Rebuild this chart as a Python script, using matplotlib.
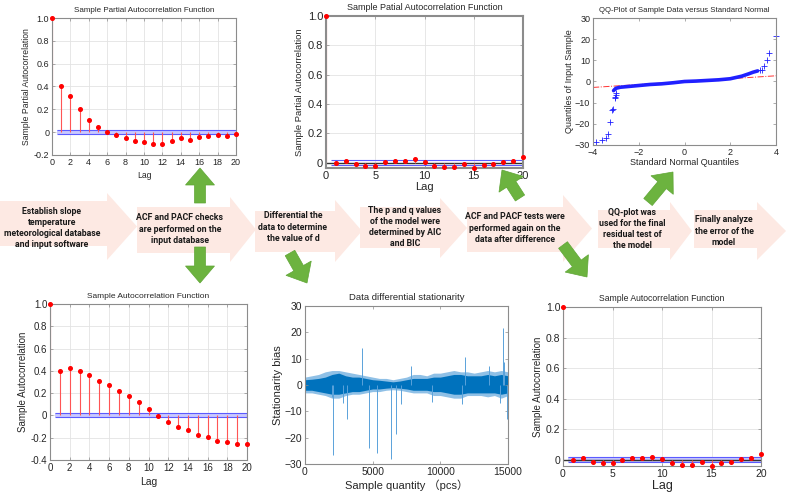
import numpy as np
import matplotlib.pyplot as plt
from matplotlib.patches import Polygon, FancyArrow

plt.rcParams['font.family'] = ['Liberation Sans', 'Noto Sans CJK SC', 'DejaVu Sans']

W, H = 786, 494

# ---- data ----
lags = np.arange(21)

# top-left: PACF of the raw data
pacf_raw = [1.0, 0.40, 0.32, 0.20, 0.11, 0.045, 0.005, -0.025, -0.055, -0.075,
            -0.085, -0.10, -0.10, -0.08, -0.048, -0.065, -0.038, -0.035, -0.025, -0.03, -0.02]
# top-middle: PACF after differencing
pacf_diff = [1.0, 0.0, 0.013, -0.007, -0.02, -0.02, 0.002, 0.013, 0.011, 0.022, 0.004,
             -0.02, -0.03, -0.03, -0.011, -0.039, -0.017, -0.007, 0.004, 0.013, 0.037]
# bottom-left: ACF of the raw data
acf_raw = [1.0, 0.40, 0.43, 0.40, 0.36, 0.31, 0.27, 0.22, 0.17, 0.12, 0.06,
           -0.003, -0.057, -0.10, -0.13, -0.18, -0.195, -0.225, -0.24, -0.26, -0.26]
# bottom-right: ACF after differencing
acf_diff = [1.0, 0.0, 0.011, -0.011, -0.022, -0.022, 0.0, 0.013, 0.011, 0.02, 0.004,
            -0.022, -0.035, -0.035, -0.017, -0.043, -0.022, -0.011, 0.004, 0.011, 0.037]
bound_raw = (0.018, -0.018)
bound_diff = (0.017, -0.017)

# QQ plot: dense middle part of the curve
qq_x = [-3.1, -3.0, -2.8, -2.5, -2.0, -1.5, -1.0, -0.5, 0.0, 0.5, 1.0, 1.5, 2.0, 2.5, 2.8, 3.0, 3.2]
qq_y = [-4.3, -3.2, -2.7, -2.4, -1.9, -1.4, -1.1, -0.6, 0.0, 0.2, 0.5, 0.8, 1.3, 2.5, 3.6, 4.4, 5.0]
# QQ plot: tail points
qq_tail_x = [-3.85, -3.6, -3.45, -3.35, -3.25, -3.15, -3.12, -3.05, -3.02, -3.0, -2.98,
             3.3, 3.4, 3.48, 3.59, 3.71, 4.0]
qq_tail_y = [-28.8, -27.5, -26.5, -25.0, -19.3, -13.5, -13.0, -8.0, -7.2, -6.5, -5.5,
             5.2, 5.5, 7.1, 10.3, 13.7, 21.6]
qq_line_x = [-4, 4]
qq_line_y = [-2.8, 2.7]

# differenced series: noise envelope and isolated spikes
env_x = [0, 500, 1000, 1500, 2000, 2500, 3000, 3500, 4000, 4500, 5000, 5500, 6000, 6500, 7000,
         7500, 8000, 8500, 9000, 9500, 10000, 10500, 11000, 11500, 12000, 12500, 13000, 13500,
         14000, 14500, 15000]
core_hi = [2.0, 2.2, 2.5, 3.0, 4.0, 4.5, 3.5, 3.0, 3.0, 2.5, 2.0, 1.8, 1.5, 1.2, 1.5,
           2.0, 2.5, 2.5, 2.5, 3.0, 3.0, 3.5, 4.0, 4.0, 3.5, 3.5, 3.5, 4.0, 3.5, 4.0, 3.5]
core_lo = [-2.0, -2.0, -2.5, -3.0, -3.5, -3.5, -3.0, -2.5, -2.5, -2.0, -1.5, -1.5, -1.2, -1.0, -1.2,
           -1.5, -2.0, -2.0, -2.0, -2.5, -2.5, -3.0, -3.5, -3.5, -3.0, -3.0, -3.0, -3.0, -3.0, -3.5, -3.0]
fringe_hi = [3.0, 3.5, 4.0, 5.0, 5.5, 5.5, 5.0, 4.5, 4.0, 3.5, 3.0, 2.5, 2.5, 2.0, 2.5,
             3.0, 4.0, 4.0, 3.5, 4.5, 4.5, 5.0, 5.5, 5.0, 5.0, 4.5, 5.0, 5.5, 5.0, 5.5, 5.0]
fringe_lo = [-3.0, -3.0, -3.5, -4.0, -5.0, -5.0, -4.0, -3.5, -3.5, -3.0, -2.5, -2.5, -2.0, -1.8, -2.0,
             -2.5, -3.0, -3.0, -3.0, -4.0, -4.0, -4.5, -5.0, -5.0, -4.0, -4.0, -4.0, -4.5, -4.0, -5.0, -4.0]
spike_x = [1970, 2090, 2780, 3120, 4180, 4700, 5290, 6390, 6710, 7080, 7840, 9390, 11600, 11850,
           13600, 14430, 14630, 14700, 14930]
spike_y = [-4.7, -26.7, -6.9, -13.0, 14.2, -23.9, -25.8, -28.1, -18.5, -7.3, 7.4, -6.4, -7.3, 10.6,
           7.2, -6.9, 21.7, 8.9, -13.0]

steps = ["Establish slope\ntemperature\nmeteorological database\nand input software",
         "ACF and PACF checks\nare performed on the\ninput database",
         "Differential the\ndata to determine\nthe value of d",
         "The p and q values\nof the model were\ndetermined by AIC\nand BIC",
         "ACF and PACF tests were\nperformed again on the\ndata after difference",
         "QQ-plot was\nused for the final\nresidual test of\nthe model",
         "Finally analyze\nthe error of the\nmodel"]
step_xy = [(52, 228), (180, 229), (293, 227), (405, 227), (515, 228), (632, 229), (724, 231)]
# pink block arrows: x0, neck, tip, body top, body bottom, head top, head bottom (pixels)
blocks = [(0, 107, 137, 201, 246, 193, 260), (137, 230, 256, 207, 253, 197, 262),
          (255, 335, 362, 211, 252, 200, 262), (360, 440, 467, 207, 248, 198, 258),
          (467, 563, 592, 207, 252, 195, 262), (598, 670, 692, 210, 248, 202, 260),
          (694, 757, 786, 210, 248, 202, 260)]
# green arrows: tail x, tail y, dx, dy (pixels)
greens = [(200, 203, 0, -35), (200, 247, 0, 36), (290, 253, 17, 30),
          (520, 198, -18, -28), (648, 202, 25, -30), (563, 245, 24, 32)]

RED = '#ff0000'
BLUE = '#5b5bff'
TXT = '#262626'

fig = plt.figure(figsize=(W / 100, H / 100), dpi=100)


def px_axes(x0, y0, x1, y1):
    return fig.add_axes([x0 / W, 1 - y1 / H, (x1 - x0) / W, (y1 - y0) / H])


def style(ax, fs):
    for s in ax.spines.values():
        s.set_color('#8c8c8c')
        s.set_linewidth(0.8)
    ax.tick_params(direction='in', length=2, width=0.5, colors='#8c8c8c',
                   labelcolor=TXT, labelsize=fs, top=True, right=True, pad=2)


def corr_plot(ax, vals, bounds, band, zero_black):
    ax.grid(True, color='#e3e3e3', lw=0.6)
    ax.set_axisbelow(True)
    if band:
        ax.fill_between([0.5, 20], bounds[1], bounds[0], color='#c9c9ff', lw=0)
    ax.hlines(list(bounds), 0.5, 20, color=BLUE, lw=0.8)
    if zero_black:
        ax.axhline(0, color='#333333', lw=1.0)
    ax.vlines(lags, 0, vals, color='#ff5555', lw=0.8)
    ax.plot(lags, vals, 'o', ms=2.6, color=RED, clip_on=False, zorder=5)
    ax.set_xlim(0, 20)


# top-left
ax1 = px_axes(52, 18, 236, 155)
style(ax1, 6.5)
corr_plot(ax1, pacf_raw, bound_raw, True, False)
ax1.set_ylim(-0.2, 1.0)
ax1.set_xticks(range(0, 21, 2))
ax1.set_yticks([-0.2, 0, 0.2, 0.4, 0.6, 0.8, 1.0])
ax1.set_yticklabels(['-0.2', '0', '0.2', '0.4', '0.6', '0.8', '1.0'])
ax1.set_title('Sample Partial Autocorrelation Function', fontsize=5.8, pad=4, color=TXT)
ax1.set_ylabel('Sample Partial Autocorrelation', fontsize=6.2, labelpad=2, color=TXT)
ax1.set_xlabel('Lag', fontsize=6.2, labelpad=3, color=TXT)

# top-middle
ax2 = px_axes(326, 16, 523, 168)
style(ax2, 8)
corr_plot(ax2, pacf_diff, bound_diff, False, True)
ax2.set_ylim(-0.037, 1.0)
ax2.set_xticks(range(0, 21, 5))
ax2.set_yticks([0, 0.2, 0.4, 0.6, 0.8, 1.0])
ax2.set_yticklabels(['0', '0.2', '0.4', '0.6', '0.8', '1.0'])
for s in ax2.spines.values():
    s.set_linewidth(1.5)
ax2.set_title('Sample Patial Autocorrelation Function', fontsize=6.5, pad=4, color=TXT)
ax2.set_ylabel('Sample Partial Autocorrelation', fontsize=6.8, labelpad=3, color=TXT)
ax2.set_xlabel('Lag', fontsize=8, labelpad=1, color=TXT)

# top-right: QQ plot
ax3 = px_axes(593, 18, 776, 145)
style(ax3, 6.5)
ax3.plot(qq_line_x, qq_line_y, color='#ff3333', lw=0.7, ls='-.')
ax3.plot(qq_x, qq_y, color='#2020ff', lw=2.6, solid_capstyle='round')
ax3.plot(qq_tail_x, qq_tail_y, '+', color='#2020ff', ms=4, mew=0.6, clip_on=False)
ax3.set_xlim(-4, 4)
ax3.set_ylim(-30, 30)
ax3.set_xticks([-4, -2, 0, 2, 4])
ax3.set_yticks(range(-30, 31, 10))
ax3.set_title('QQ-Plot of Sample Data versus Standard Normal', fontsize=5.6, pad=4, color=TXT)
ax3.set_ylabel('Quantiles of Input Sample', fontsize=6.5, labelpad=1, color=TXT)
ax3.set_xlabel('Standard Normal Quantiles', fontsize=6.5, labelpad=1, color=TXT)

# bottom-left
ax4 = px_axes(50, 304, 247, 460)
style(ax4, 7)
corr_plot(ax4, acf_raw, bound_raw, True, False)
ax4.set_ylim(-0.4, 1.0)
ax4.set_xticks(range(0, 21, 2))
ax4.set_yticks([-0.4, -0.2, 0, 0.2, 0.4, 0.6, 0.8, 1.0])
ax4.set_yticklabels(['-0.4', '-0.2', '0', '0.2', '0.4', '0.6', '0.8', '1.0'])
ax4.set_title('Sample Autocorrelation Function', fontsize=6, pad=4, color=TXT)
ax4.set_ylabel('Sample Autocorrelation', fontsize=7, labelpad=2, color=TXT)
ax4.set_xlabel('Lag', fontsize=7.5, labelpad=3, color=TXT)

# bottom-middle: differenced series
ax5 = px_axes(305, 306, 508, 464)
style(ax5, 7.5)
ax5.fill_between(env_x, fringe_lo, fringe_hi, color='#8fc0e6', lw=0)
ax5.fill_between(env_x, core_lo, core_hi, color='#0072bd', lw=0)
ax5.vlines(spike_x, 0, spike_y, color='#5aa2da', lw=0.7)
ax5.set_xlim(0, 15000)
ax5.set_ylim(-30, 30)
ax5.set_xticks([0, 5000, 10000, 15000])
ax5.set_yticks(range(-30, 31, 10))
ax5.set_title('Data differential stationarity', fontsize=6.8, pad=4, color=TXT)
ax5.set_ylabel('Stationarity bias', fontsize=8, labelpad=1, color=TXT)
ax5.set_xlabel('Sample quantity （pcs）', fontsize=8, labelpad=2, color=TXT)

# bottom-right
ax6 = px_axes(563, 307, 761, 466)
style(ax6, 7.5)
corr_plot(ax6, acf_diff, bound_diff, True, True)
ax6.set_ylim(-0.04, 1.0)
ax6.set_xticks(range(0, 21, 5))
ax6.set_yticks([0, 0.2, 0.4, 0.6, 0.8, 1.0])
ax6.set_yticklabels(['0', '0.2', '0.4', '0.6', '0.8', '1.0'])
ax6.set_title('Sample Autocorrelation Function', fontsize=6.2, pad=4, color=TXT)
ax6.set_ylabel('Sample Autocorrelation', fontsize=7, labelpad=2, color=TXT)
ax6.set_xlabel('Lag', fontsize=9, labelpad=1, color=TXT)

# flow chart overlay in pixel coordinates
ov = fig.add_axes([0, 0, 1, 1])
ov.set_xlim(0, W)
ov.set_ylim(H, 0)
ov.axis('off')
ov.patch.set_alpha(0)
for x0, xn, xt, bt, bb, ht, hb in blocks:
    yc = (ht + hb) / 2
    pts = [(x0, bt), (xn, bt), (xn, ht), (xt, yc), (xn, hb), (xn, bb), (x0, bb)]
    ov.add_patch(Polygon(pts, closed=True, fc='#fde9e3', ec='none', zorder=1))
for txt, (x, y) in zip(steps, step_xy):
    ov.text(x, y, txt, ha='center', va='center', fontsize=6.3, fontweight='bold',
            family=['Roboto', 'DejaVu Sans'], color='#1a1a1a', linespacing=1.3, zorder=3)
for x, y, dx, dy in greens:
    ov.add_patch(FancyArrow(x, y, dx, dy, width=11, head_width=29, head_length=17,
                            length_includes_head=True, fc='#6cb33f', ec='#5fa535', lw=0.5, zorder=4))

fig.savefig('out.png', dpi=100)
